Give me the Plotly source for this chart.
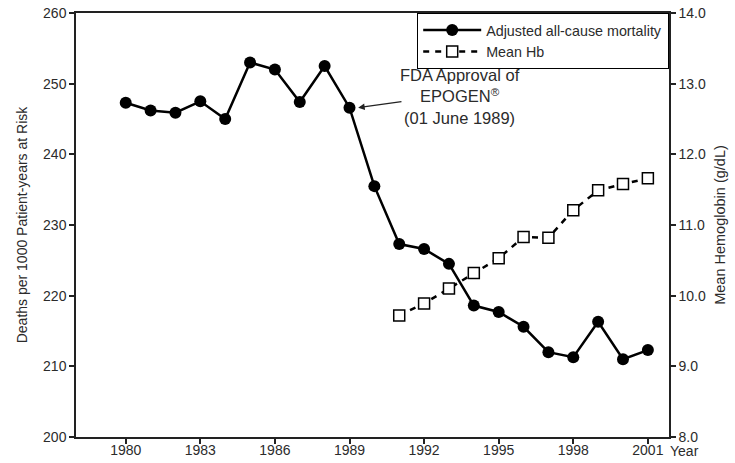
import plotly.graph_objects as go

# Annual adjusted all-cause mortality (deaths per 1000 patient-years at risk)
years = list(range(1980, 2002))
mortality = [247.3, 246.2, 245.9, 247.5, 245.0, 253.0, 252.0, 247.4, 252.5, 246.6,
             235.5, 227.3, 226.6, 224.5, 218.6, 217.7, 215.6, 212.0, 211.3, 216.3,
             211.0, 212.3]

# Mean hemoglobin (g/dL), available from 1991
hb_years = list(range(1991, 2002))
mean_hb = [9.72, 9.89, 10.10, 10.32, 10.53, 10.83, 10.82, 11.21, 11.49, 11.58, 11.66]

x_ticks = [1980, 1983, 1986, 1989, 1992, 1995, 1998, 2001]
y_ticks = [200, 210, 220, 230, 240, 250, 260]
y2_ticks = [8.0, 9.0, 10.0, 11.0, 12.0, 13.0, 14.0]

FONT = "Liberation Sans, Arial, sans-serif"
TXT = "#2b2b2b"
AX = "#222222"

fig = go.Figure()
fig.add_trace(go.Scatter(
    x=years, y=mortality, name="Adjusted all-cause mortality",
    mode="lines+markers",
    line=dict(color="black", width=2.5),
    marker=dict(symbol="circle", size=12, color="black"),
    yaxis="y",
))
fig.add_trace(go.Scatter(
    x=hb_years, y=mean_hb, name="Mean Hb",
    mode="lines+markers",
    line=dict(color="black", width=2.5, dash="6px,6px"),
    marker=dict(symbol="square", size=11, color="white",
                line=dict(width=1.5, color="black")),
    yaxis="y2",
))

# Approval annotation with arrow pointing to the 1989 point
fig.add_annotation(
    x=1989.35, y=246.6, ax=1991.15, ay=247.5, axref="x", ayref="y",
    xref="x", yref="y", text="", showarrow=True,
    arrowhead=2, arrowsize=1, arrowwidth=1.3, arrowcolor=AX,
)
fig.add_annotation(
    x=1993.45, y=248.2, xref="x", yref="y",
    text="FDA Approval of<br>EPOGEN<sup>®</sup><br>(01 June 1989)",
    showarrow=False, align="center",
    font=dict(family=FONT, size=16.5, color=TXT),
)
# Unit label after the last year tick
fig.add_annotation(
    x=1.0, y=0, xref="paper", yref="paper", xanchor="left", yanchor="middle",
    xshift=-1, yshift=-14,
    text="Year", showarrow=False,
    font=dict(family=FONT, size=14, color=TXT),
)

fig.update_layout(
    width=735, height=463,
    margin=dict(l=76, r=66, t=13, b=26),
    paper_bgcolor="white", plot_bgcolor="white",
    font=dict(family=FONT, size=14, color=TXT),
    showlegend=True,
    legend=dict(
        x=1, y=1, xanchor="right", yanchor="top",
        bordercolor="black", borderwidth=1.2, bgcolor="white",
        font=dict(family=FONT, size=14.3, color=TXT),
        tracegroupgap=0, itemwidth=58,
    ),
    xaxis=dict(
        range=[1978, 2001.85], tickvals=x_ticks, automargin=False,
        ticks="outside", ticklen=5, tickwidth=1.5, tickcolor=AX,
        ticklabelstandoff=-6,
        showline=True, linecolor=AX, linewidth=1.5, mirror=True,
        showgrid=False, zeroline=False,
        tickfont=dict(family=FONT, size=14, color=TXT),
    ),
    yaxis=dict(
        range=[200, 260], tickvals=y_ticks, automargin=False,
        ticks="outside", ticklen=5, tickwidth=1.5, tickcolor=AX,
        showline=True, linecolor=AX, linewidth=1.5,
        showgrid=False, zeroline=False,
        title=dict(text="Deaths per 1000 Patient-years at Risk",
                   font=dict(family=FONT, size=14, color=TXT), standoff=12),
        tickfont=dict(family=FONT, size=14, color=TXT),
    ),
    yaxis2=dict(
        range=[8, 14], tickvals=y2_ticks, tickformat=".1f", automargin=False,
        overlaying="y", side="right",
        ticks="outside", ticklen=5, tickwidth=1.5, tickcolor=AX,
        showline=True, linecolor=AX, linewidth=1.5,
        showgrid=False, zeroline=False,
        title=dict(text="Mean Hemoglobin (g/dL)",
                   font=dict(family=FONT, size=14.5, color=TXT), standoff=10),
        tickfont=dict(family=FONT, size=14, color=TXT),
    ),
)

fig.write_html("out.html")
